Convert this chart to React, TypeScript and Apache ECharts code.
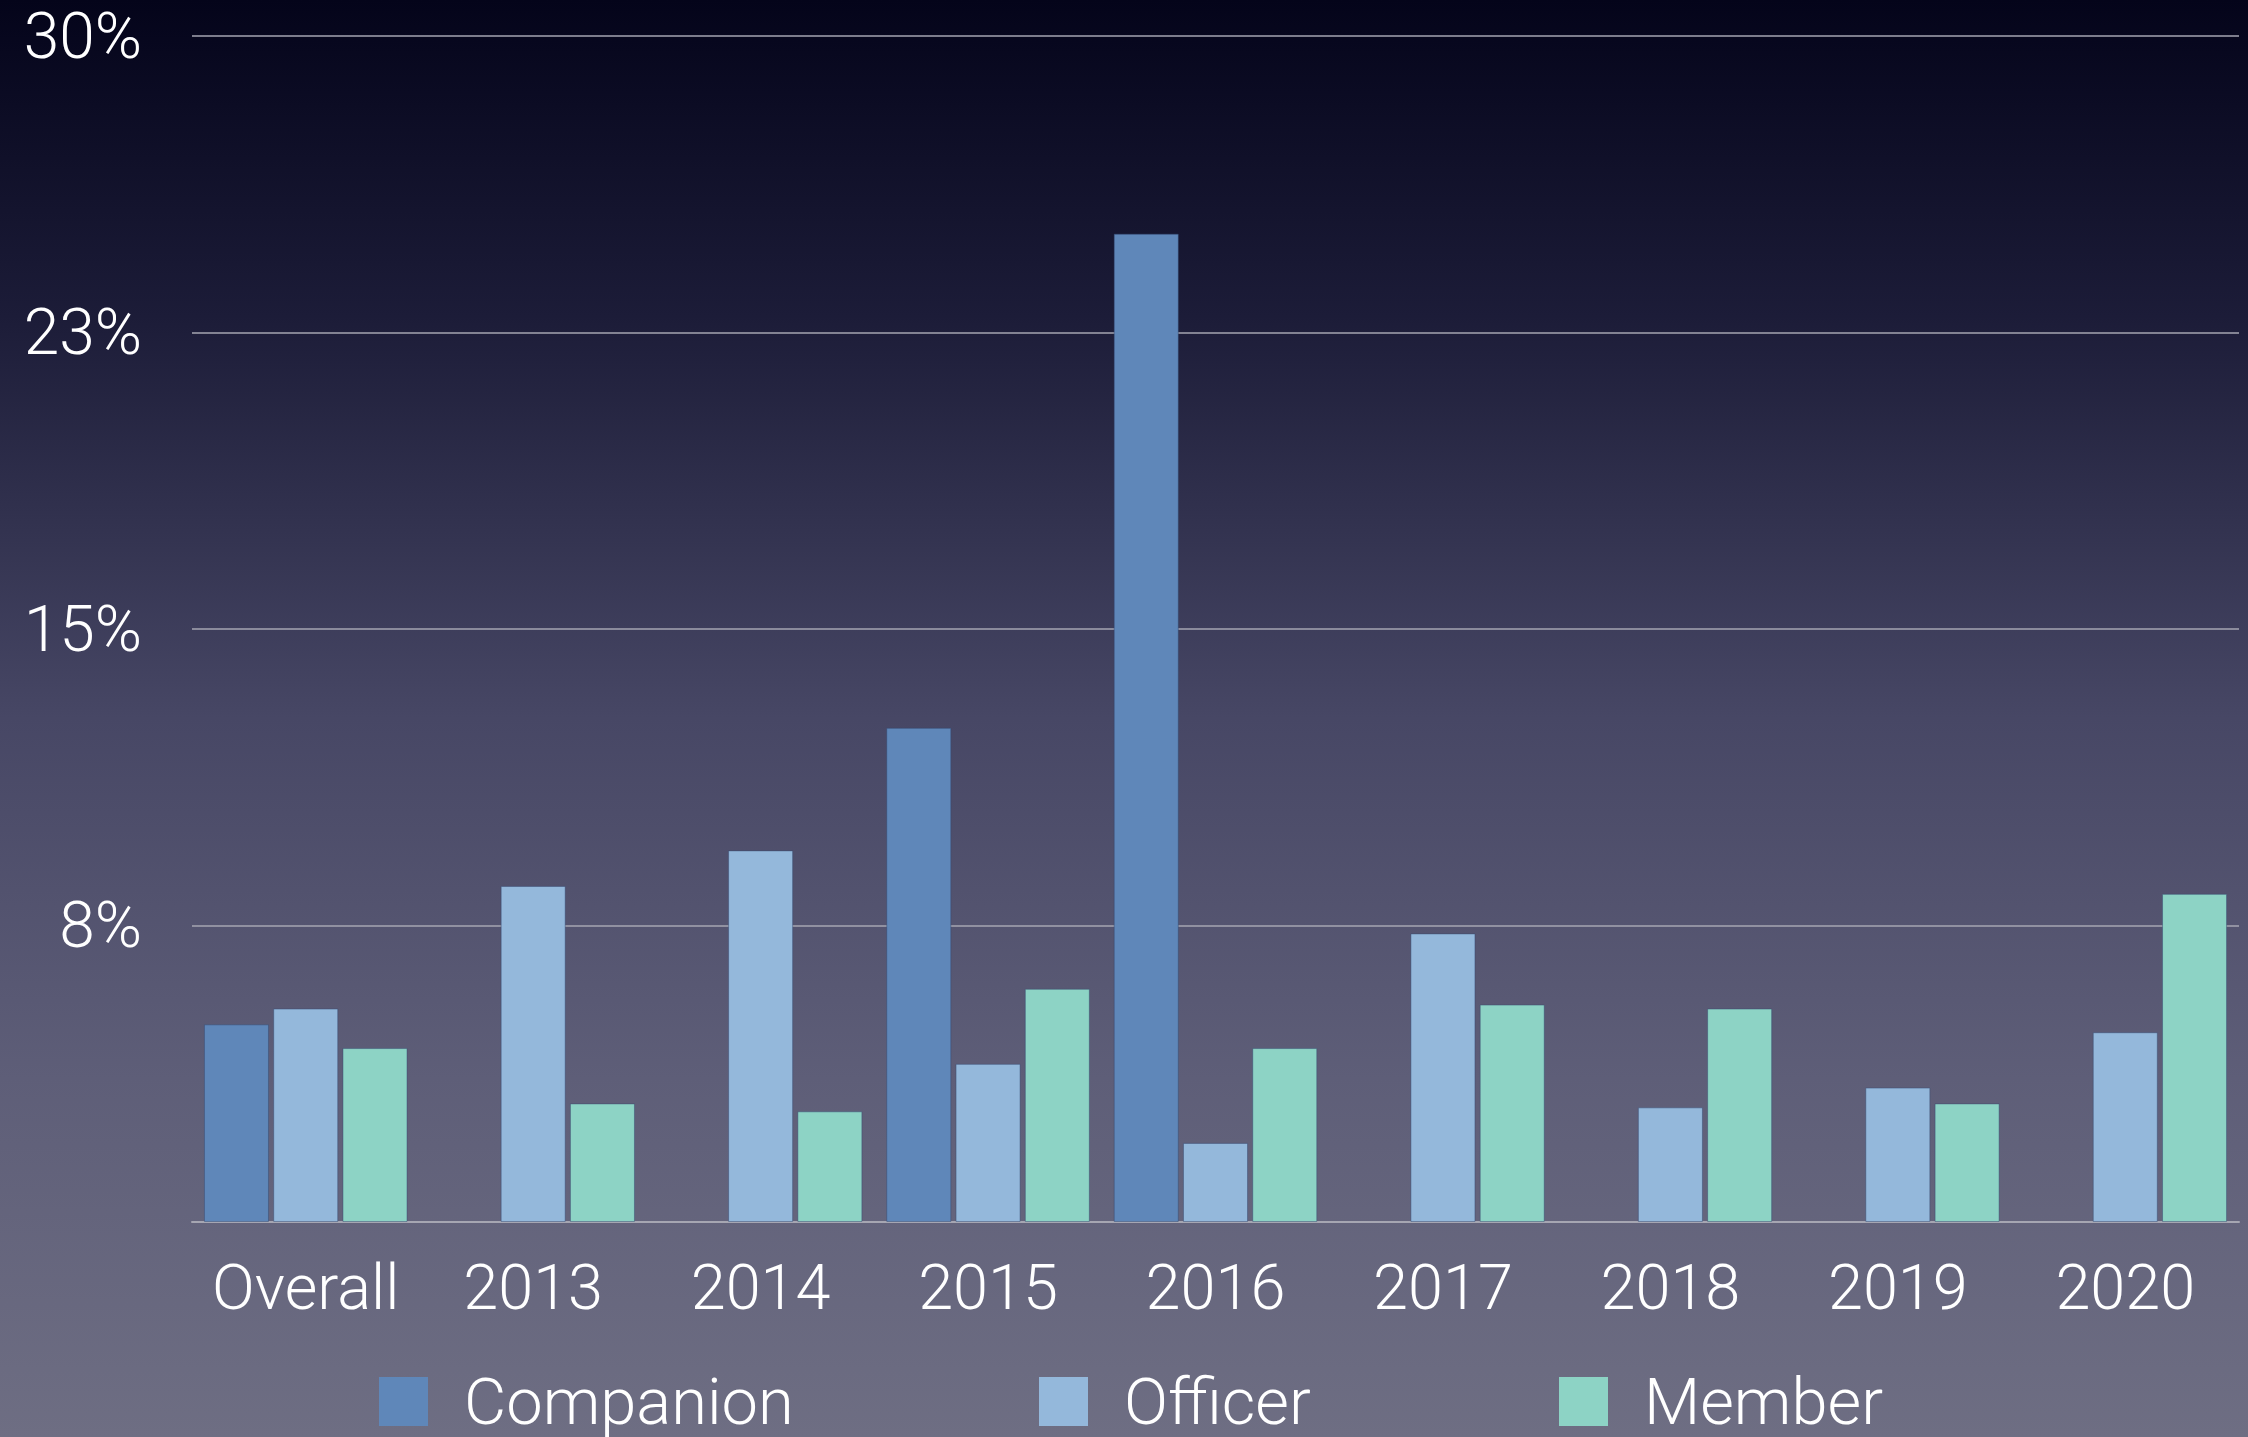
import React, { useEffect, useRef } from "react";
import * as echarts from "echarts";

const categories = ["Overall", "2013", "2014", "2015", "2016", "2017", "2018", "2019", "2020"];
const companion = [5.0, null, null, 12.5, 25.0, null, null, null, null];
const officer = [5.4, 8.5, 9.4, 4.0, 2.0, 7.3, 2.9, 3.4, 4.8];
const member = [4.4, 3.0, 2.8, 5.9, 4.4, 5.5, 5.4, 3.0, 8.3];
const seriesNames = ["Companion", "Officer", "Member"];
const colors = ["#5f87b9", "#94b8db", "#8dd3c5"];
const legendLefts = [374, 1034, 1554];

const FONT = "Roboto, 'Liberation Sans', sans-serif";

export default function App() {
  const ref = useRef<HTMLDivElement>(null);
  useEffect(() => {
    document.body.style.margin = "0";
    const chart = echarts.init(ref.current!, null, { renderer: "svg" });
    const data = [companion, officer, member];
    chart.setOption({
      animation: false,
      backgroundColor: new echarts.graphic.LinearGradient(0, 0, 0, 1, [
        { offset: 0, color: "#04041a" },
        { offset: 0.22, color: "#1c1c38" },
        { offset: 0.5, color: "#474765" },
        { offset: 0.75, color: "#5e5e78" },
        { offset: 1, color: "#6e6e83" },
      ]),
      color: colors,
      grid: { left: 192, right: 9, top: 36, bottom: 215, containLabel: false },
      legend: seriesNames.map((name, i) => ({
        data: [name],
        left: legendLefts[i],
        top: 1364,
        itemWidth: 49,
        itemHeight: 49,
        icon: "rect",
        itemStyle: { borderWidth: 0 },
        textStyle: {
          color: "#ffffff",
          fontSize: 65,
          fontWeight: 300,
          fontFamily: FONT,
          lineHeight: 60,
          padding: [0, 0, 0, 31],
        },
      })),
      xAxis: {
        type: "category",
        data: categories,
        axisLine: { show: true, lineStyle: { color: "#a6a6b2", width: 2 } },
        axisTick: { show: false },
        axisLabel: {
          interval: 0,
          color: "#ffffff",
          fontSize: 63,
          fontWeight: 300,
          fontFamily: FONT,
          margin: 34,
        },
      },
      yAxis: {
        type: "value",
        min: 0,
        max: 30,
        interval: 7.5,
        axisLine: { show: false },
        axisTick: { show: false },
        splitLine: { show: true, lineStyle: { color: "#a6a6b2", width: 1.5 } },
        axisLabel: {
          color: "#ffffff",
          fontSize: 64,
          fontWeight: 300,
          fontFamily: FONT,
          lineHeight: 52,
          margin: 50,
          formatter: (v: number) => (v === 0 ? "" : Math.round(v) + "%"),
        },
      },
      series: seriesNames.map((name, i) => ({
        name,
        type: "bar",
        data: data[i],
        barCategoryGap: "10.5%",
        barGap: "6.5%",
        itemStyle: { color: colors[i], borderColor: "rgba(50,70,110,0.45)", borderWidth: 1 },
      })),
    });
    return () => chart.dispose();
  }, []);
  return <div ref={ref} style={{ width: 2248, height: 1437 }} />;
}
